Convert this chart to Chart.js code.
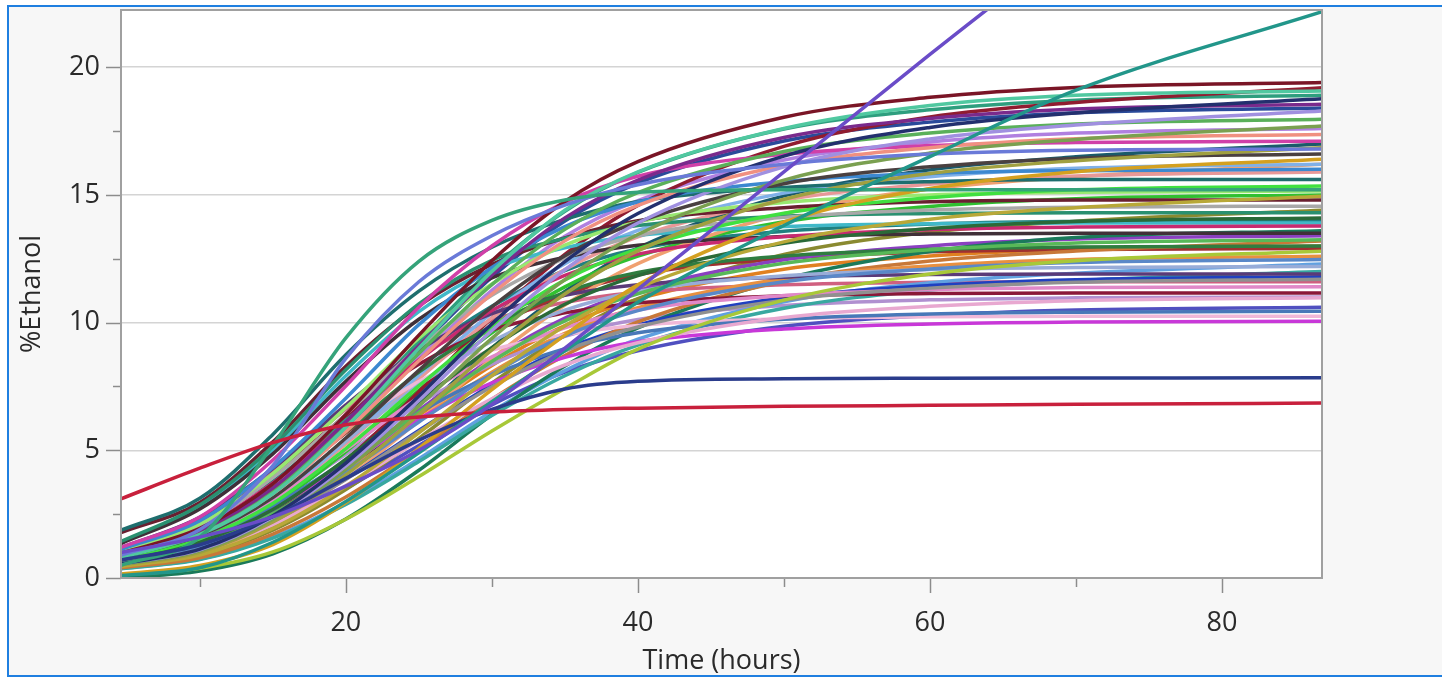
<!DOCTYPE html>
<html><head><meta charset="utf-8">
<script src="https://cdn.jsdelivr.net/npm/chart.js@4"></script>
<style>
html,body{margin:0;padding:0;background:#fff;width:1442px;height:678px;overflow:hidden;}
#bg{position:absolute;left:9px;top:7px;width:1440px;height:668px;background:#f7f7f7;}
#frame{position:absolute;left:7px;top:5px;width:1450px;height:668px;border:2px solid #1f7fe0;pointer-events:none;z-index:5;}
canvas{position:absolute;left:0;top:0;z-index:2;}
</style></head>
<body>
<div id="bg"></div>
<canvas id="c" width="1442" height="678"></canvas>
<div id="frame"></div>
<script>
// ---- data ----
const times = [4.6, 10, 15, 20, 25, 30, 35, 40, 50, 60, 70, 87];
const xTickValues = [10, 20, 30, 40, 50, 60, 70, 80];
const xLabelValues = [20, 40, 60, 80];
const yTickValues = [0, 2.5, 5, 7.5, 10, 12.5, 15, 17.5, 20];
const yLabelValues = [0, 5, 10, 15, 20];

// special runs
const runPurple = [1.0, 1.6, 2.4, 3.6, 5.0, 6.8, 9.0, 11.3, 15.9, 20.5, 25.0, 33.0];
const runTeal   = [0.1, 0.4, 1.4, 3.0, 4.9, 6.9, 8.9, 10.8, 13.8, 16.5, 19.1, 22.2];
const runRed    = [3.1, 4.3, 5.3, 6.0, 6.3, 6.5, 6.6, 6.65, 6.72, 6.76, 6.8, 6.85];
const runNavy   = [0.7, 1.3, 2.4, 3.9, 5.4, 6.6, 7.4, 7.7, 7.8, 7.82, 7.83, 7.84];
const runEarly  = [0.5, 1.6, 5.2, 9.4, 12.4, 14.0, 14.8, 15.1, 15.2, 15.2, 15.2, 15.2];
const runBlueHi = [0.9, 1.9, 4.4, 8.6, 11.6, 13.4, 14.6, 15.4, 16.2, 16.6, 16.75, 16.8];

// main bundle
const run01 = [0.97, 1.94, 3.69, 6.40, 9.51, 12.42, 14.74, 16.30, 18.04, 18.82, 19.21, 19.40];
const run02 = [0.80, 1.70, 3.30, 5.90, 9.00, 12.00, 14.40, 15.90, 17.60, 18.50, 18.90, 19.07];
const run03 = [0.56, 1.13, 2.44, 4.50, 7.13, 9.95, 12.39, 14.27, 16.52, 17.64, 18.21, 18.77];
const run04 = [0.93, 1.86, 3.52, 6.12, 9.09, 11.87, 14.10, 15.58, 17.25, 17.99, 18.36, 18.55];
const run05 = [0.55, 1.10, 2.38, 4.39, 6.95, 9.69, 12.07, 13.90, 16.10, 17.19, 17.74, 18.29];
const run06 = [0.90, 1.80, 3.41, 5.93, 8.80, 11.49, 13.65, 15.09, 16.70, 17.42, 17.78, 17.96];
const run07 = [0.53, 1.06, 2.30, 4.25, 6.73, 9.38, 11.68, 13.45, 15.58, 16.64, 17.17, 17.70];
const run08 = [0.87, 1.74, 3.30, 5.73, 8.51, 11.12, 13.20, 14.59, 16.15, 16.85, 17.20, 17.37];
const run09 = [1.20, 2.39, 4.62, 7.52, 10.60, 13.00, 14.71, 15.73, 16.59, 16.93, 17.05, 17.10];
const run10 = [0.51, 1.01, 2.19, 4.04, 6.40, 8.93, 11.12, 12.81, 14.83, 15.84, 16.34, 16.85];
const run11 = [0.83, 1.66, 3.15, 5.48, 8.13, 10.62, 12.62, 13.94, 15.44, 16.10, 16.43, 16.60];
const run12 = [0.16, 0.49, 1.31, 2.95, 5.08, 7.38, 9.51, 11.48, 13.94, 15.25, 15.91, 16.40];
const run13 = [1.12, 2.24, 4.32, 7.04, 9.92, 12.16, 13.76, 14.72, 15.52, 15.84, 15.95, 16.00];
const run14 = [0.77, 1.54, 2.92, 5.07, 7.52, 9.82, 11.67, 12.89, 14.28, 14.89, 15.20, 15.35];
const run15 = [1.06, 2.12, 4.09, 6.67, 9.39, 11.51, 13.03, 13.94, 14.70, 15.00, 15.10, 15.15];
const run16 = [0.45, 0.90, 1.94, 3.59, 5.68, 7.92, 9.87, 11.36, 13.16, 14.05, 14.50, 14.95];
const run17 = [1.02, 2.04, 3.93, 6.41, 9.03, 11.07, 12.52, 13.40, 14.12, 14.41, 14.52, 14.56];
const run18 = [1.43, 2.86, 5.15, 8.15, 10.73, 12.44, 13.30, 13.80, 14.16, 14.27, 14.30, 14.30];
const run19 = [0.71, 1.41, 2.68, 4.65, 6.91, 9.02, 10.72, 11.84, 13.11, 13.68, 13.96, 14.10];
const run20 = [0.96, 1.93, 3.72, 6.06, 8.54, 10.47, 11.85, 12.68, 13.37, 13.64, 13.74, 13.78];
const run21 = [1.35, 2.70, 4.86, 7.70, 10.13, 11.75, 12.56, 13.03, 13.37, 13.47, 13.50, 13.50];
const run22 = [0.66, 1.33, 2.52, 4.37, 6.49, 8.48, 10.07, 11.13, 12.32, 12.85, 13.12, 13.25];
const run23 = [0.91, 1.82, 3.51, 5.72, 8.06, 9.88, 11.18, 11.96, 12.61, 12.87, 12.96, 13.00];
const run24 = [0.13, 0.38, 1.02, 2.30, 3.97, 5.76, 7.42, 8.96, 10.88, 11.90, 12.42, 12.80];
const run25 = [0.62, 1.25, 2.37, 4.12, 6.11, 7.98, 9.48, 10.47, 11.60, 12.10, 12.35, 12.47];
const run26 = [0.85, 1.71, 3.29, 5.37, 7.56, 9.27, 10.49, 11.22, 11.83, 12.08, 12.16, 12.20];
const run27 = [1.19, 2.38, 4.28, 6.78, 8.93, 10.35, 11.07, 11.48, 11.78, 11.88, 11.90, 11.90];
const run28 = [0.59, 1.17, 2.22, 3.86, 5.73, 7.49, 8.89, 9.83, 10.88, 11.35, 11.58, 11.70];
const run29 = [0.80, 1.60, 3.08, 5.02, 7.07, 8.66, 9.80, 10.49, 11.06, 11.29, 11.37, 11.40];
const run30 = [1.12, 2.23, 4.02, 6.36, 8.37, 9.71, 10.38, 10.77, 11.05, 11.14, 11.16, 11.16];
const run31 = [0.55, 1.10, 2.08, 3.62, 5.38, 7.02, 8.34, 9.21, 10.20, 10.64, 10.86, 10.97];
const run32 = [0.73, 1.46, 2.82, 4.59, 6.47, 7.93, 8.98, 9.60, 10.13, 10.34, 10.41, 10.44];
const run33 = [1.03, 2.05, 3.69, 5.84, 7.69, 8.92, 9.53, 9.89, 10.15, 10.23, 10.25, 10.25];
const run34 = [0.70, 1.41, 2.71, 4.42, 6.23, 7.64, 8.64, 9.25, 9.75, 9.95, 10.02, 10.05];
const run35 = [1.87, 3.12, 5.62, 8.74, 11.23, 12.95, 14.04, 14.74, 15.29, 15.52, 15.60, 15.60];
const run36 = [1.78, 2.96, 5.33, 8.29, 10.66, 12.28, 13.32, 13.99, 14.50, 14.73, 14.80, 14.80];
const run37 = [1.39, 2.78, 5.00, 7.92, 10.43, 12.09, 12.93, 13.41, 13.76, 13.87, 13.90, 13.90];
const run38 = [0.81, 1.62, 3.08, 5.35, 7.94, 10.37, 12.31, 13.61, 15.07, 15.71, 16.04, 16.20];
const run39 = [0.63, 1.26, 2.39, 4.16, 6.17, 8.06, 9.58, 10.58, 11.72, 12.22, 12.47, 12.60];
const run40 = [0.40, 0.79, 1.72, 3.17, 5.02, 7.00, 8.71, 10.03, 11.62, 12.41, 12.80, 13.20];
const run41 = [0.59, 1.18, 2.24, 3.89, 5.78, 7.55, 8.97, 9.91, 10.97, 11.45, 11.68, 11.80];
const run42 = [0.80, 1.59, 3.02, 5.25, 7.79, 10.18, 12.08, 13.36, 14.79, 15.42, 15.74, 15.90];
const run43 = [0.36, 0.72, 1.56, 2.88, 4.56, 6.36, 7.92, 9.12, 10.56, 11.28, 11.64, 12.00];
const run44 = [0.00, 0.27, 0.95, 2.31, 4.22, 6.39, 8.30, 9.79, 11.70, 12.78, 13.33, 13.60];
const run45 = [0.58, 1.15, 2.50, 4.61, 7.30, 10.18, 12.67, 14.59, 16.90, 18.05, 18.62, 19.20];
const run46 = [0.95, 1.89, 3.59, 6.24, 9.26, 12.10, 14.36, 15.88, 17.58, 18.33, 18.71, 18.90];
const run47 = [0.92, 1.84, 3.50, 6.07, 9.02, 11.78, 13.98, 15.46, 17.11, 17.85, 18.22, 18.40];
const run48 = [0.88, 1.76, 3.34, 5.81, 8.62, 11.26, 13.38, 14.78, 16.37, 17.07, 17.42, 17.60];
const run49 = [0.49, 0.97, 2.11, 3.89, 6.16, 8.59, 10.69, 12.31, 14.26, 15.23, 15.71, 16.20];
const run50 = [0.75, 1.50, 2.85, 4.95, 7.35, 9.60, 11.40, 12.60, 13.95, 14.55, 14.85, 15.00];
const run51 = [0.98, 1.96, 3.78, 6.16, 8.68, 10.64, 12.04, 12.88, 13.58, 13.86, 13.96, 14.00];
const run52 = [0.67, 1.34, 2.55, 4.42, 6.57, 8.58, 10.18, 11.26, 12.46, 13.00, 13.27, 13.40];
const run53 = [0.90, 1.81, 3.48, 5.68, 8.00, 9.80, 11.09, 11.87, 12.51, 12.77, 12.86, 12.90];
const run54 = [0.37, 0.74, 1.60, 2.95, 4.67, 6.52, 8.12, 9.35, 10.82, 11.56, 11.93, 12.30];
const run55 = [1.16, 2.32, 4.18, 6.61, 8.70, 10.09, 10.79, 11.19, 11.48, 11.58, 11.60, 11.60];
const run56 = [0.77, 1.54, 2.97, 4.84, 6.82, 8.36, 9.46, 10.12, 10.67, 10.89, 10.97, 11.00];
const run57 = [0.43, 0.86, 1.87, 3.46, 5.47, 7.63, 9.50, 10.94, 12.67, 13.54, 13.97, 14.40];
const run58 = [0.51, 1.02, 2.21, 4.08, 6.46, 9.01, 11.22, 12.92, 14.96, 15.98, 16.49, 17.00];
const run59 = [0.65, 1.30, 2.47, 4.29, 6.37, 8.32, 9.88, 10.92, 12.09, 12.61, 12.87, 13.00];
const run60 = [0.53, 1.06, 2.01, 3.50, 5.19, 6.78, 8.06, 8.90, 9.86, 10.28, 10.49, 10.60];

const specialRuns = [runPurple, runTeal, runRed, runNavy, runEarly, runBlueHi];
const specialColors = ['#6a4cc8', '#22968a', '#c8203c', '#2a3c8c', '#35a37a', '#6a7ad8'];

const bundleRuns = [run01, run02, run03, run04, run05, run06, run07, run08, run09, run10,
  run11, run12, run13, run14, run15, run16, run17, run18, run19, run20,
  run21, run22, run23, run24, run25, run26, run27, run28, run29, run30,
  run31, run32, run33, run34, run35, run36, run37, run38, run39, run40,
  run41, run42, run43, run44, run45, run46, run47, run48, run49, run50,
  run51, run52, run53, run54, run55, run56, run57, run58, run59, run60];
const bundleColors = ['#7a1526', '#50c8a0', '#23306e', '#7a2a8c', '#a090e0', '#5ab05a', '#7aa050', '#f09080', '#d040a8', '#a0a040',
  '#4a4040', '#d4a020', '#3c88d0', '#40e040', '#98e870', '#b8a838', '#a8a8a8', '#2a9070', '#2a6a38', '#c82a70',
  '#403038', '#58b858', '#2f7d40', '#a8c838', '#5a88c8', '#98acd8', '#5a3a78', '#909090', '#e088c8', '#8a1838',
  '#e8a8d0', '#4878b8', '#f0b8d8', '#c838d8', '#1e6e6e', '#6a2030', '#40b8c8', '#80b0e8', '#e89040', '#c87838',
  '#2040c0', '#e89898', '#38a8a0', '#1a7a5a', '#901c30', '#2e9e7e', '#2a4a9a', '#b080e0', '#f0a070', '#30c030',
  '#208080', '#8a40c0', '#a03030', '#60a0e0', '#d06080', '#b090d0', '#8a8a30', '#1a5a6a', '#e08020', '#5050c0'];

// ---- build ----
const allRuns = specialRuns.concat(bundleRuns);
const allColors = specialColors.concat(bundleColors);
const datasets = allRuns.map((vals, i) => ({
  data: vals.map((v, j) => ({x: times[j], y: v})),
  borderColor: allColors[i],
  backgroundColor: allColors[i],
  borderWidth: 3.5,
  pointRadius: 0,
  fill: false,
  cubicInterpolationMode: 'monotone'
}));

const FONT = '"Segoe UI", "Open Sans", "Noto Sans", sans-serif';

const framePlugin = {
  id: 'frame',
  beforeDraw(chart) {
    const {ctx, chartArea: a} = chart;
    ctx.save();
    ctx.fillStyle = '#ffffff';
    ctx.fillRect(a.left, a.top, a.right - a.left, a.bottom - a.top);
    ctx.restore();
  },
  afterDraw(chart) {
    const {ctx, chartArea: a} = chart;
    const xs = chart.scales.x, ys = chart.scales.y;
    ctx.save();
    ctx.strokeStyle = '#8c8c8c';
    ctx.lineWidth = 1.5;
    xTickValues.forEach(v => {
      const px = Math.round(xs.getPixelForValue(v)) + 0.5;
      const len = xLabelValues.includes(v) ? 15 : 9;
      ctx.beginPath(); ctx.moveTo(px, a.bottom); ctx.lineTo(px, a.bottom + len); ctx.stroke();
    });
    yTickValues.forEach(v => {
      const py = Math.round(ys.getPixelForValue(v)) + 0.5;
      const len = yLabelValues.includes(v) ? 15 : 8;
      ctx.beginPath(); ctx.moveTo(a.left - len, py); ctx.lineTo(a.left, py); ctx.stroke();
    });
    ctx.strokeStyle = '#a0a0a0';
    ctx.lineWidth = 2;
    ctx.strokeRect(a.left, a.top, a.right - a.left, a.bottom - a.top);
    ctx.restore();
  }
};

new Chart(document.getElementById('c'), {
  type: 'line',
  data: {datasets},
  plugins: [framePlugin],
  options: {
    responsive: false,
    animation: false,
    events: [],
    layout: {padding: {left: 0, top: 10, right: 120, bottom: 0}},
    plugins: {legend: {display: false}, tooltip: {enabled: false}},
    scales: {
      x: {
        type: 'linear', min: 4.6, max: 86.85,
        afterBuildTicks: ax => { ax.ticks = xTickValues.map(v => ({value: v})); },
        afterFit: s => { s.height = 100; s.paddingLeft = 0; s.paddingRight = 0; },
        ticks: {
          autoSkip: false, maxRotation: 0, padding: 21,
          color: '#2a2a2a', font: {family: FONT, size: 27},
          callback: v => xLabelValues.includes(v) ? String(v) : ''
        },
        grid: {display: false},
        border: {display: false},
        title: {display: true, text: 'Time (hours)', color: '#2a2a2a',
          font: {family: FONT, size: 27}, padding: {top: 0, bottom: 0}}
      },
      y: {
        min: 0, max: 22.24,
        afterBuildTicks: ax => { ax.ticks = yTickValues.map(v => ({value: v})); },
        afterFit: s => { s.width = 121; s.paddingTop = 0; s.paddingBottom = 0; },
        ticks: {
          autoSkip: false, padding: 21,
          color: '#2a2a2a', font: {family: FONT, size: 27},
          callback: v => yLabelValues.includes(v) ? String(v) : ''
        },
        grid: {
          drawTicks: false, lineWidth: 1.5,
          color: ctx => (ctx.tick && yLabelValues.includes(ctx.tick.value) && ctx.tick.value > 0) ? '#d4d4d4' : 'rgba(0,0,0,0)'
        },
        border: {display: false},
        title: {display: true, text: '%Ethanol', color: '#2a2a2a',
          font: {family: FONT, size: 27}, padding: {top: 16, bottom: 0}}
      }
    }
  }
});
</script>
</body></html>
